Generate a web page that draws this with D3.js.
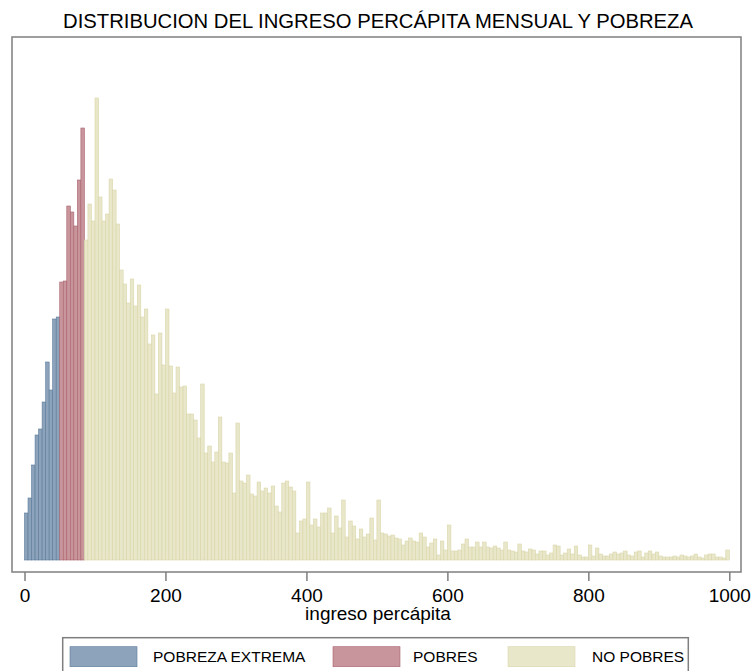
<!DOCTYPE html>
<html>
<head>
<meta charset="utf-8">
<script src="https://cdn.jsdelivr.net/npm/d3@7"></script>
<style>
    body { margin: 0; background: #ffffff; }
    svg { font-family: "Liberation Sans", Arial, sans-serif; }
</style>
</head>
<body>
<svg id="drawing_region"></svg>
<script>
// ancho de cada intervalo del histograma
const binWidth = 5;

// frecuencias por grupo (altura relativa de cada barra)
const extremaStart = 0;
const pobrezaExtrema = [47, 62, 95, 125, 131, 158, 198, 170, 241, 243];

const pobresStart = 50;
const pobres = [278, 279, 354, 348, 334, 380, 432];

const noPobresStart = 85;
const noPobres = [
    320, 356, 339, 462, 363, 339, 346, 381, 370, 336, 290, 276, 257,
    281, 254, 275, 243, 251, 216, 225, 166, 227, 195, 251, 194, 167, 193, 173, 174,
    146, 146, 140, 122, 176, 107, 114, 98, 108, 143, 98, 97, 107, 67, 137,
    79, 77, 85, 66, 64, 78, 69, 72, 67, 74, 54, 48, 77, 79, 73, 69, 27, 39, 41,
    78, 35, 41, 33, 47, 47, 52, 27, 44, 32, 60, 23, 39, 34, 21, 31, 23, 26,
    42, 20, 60, 27, 26, 24, 25, 22, 21, 15, 19, 22, 19, 18, 27, 23, 13, 17, 21,
    5, 19, 10, 35, 9, 9, 10, 16, 21, 13, 13, 18, 13, 18, 13,
    12, 14, 12, 10, 18, 10, 9, 8, 16, 9, 8, 11, 10, 6, 9, 9, 5, 7, 15, 14, 5,
    7, 11, 6, 14, 5, 3, 3, 15, 4, 12, 6, 4, 4, 6, 8, 6,
    7, 9, 5, 4, 8, 9, 3, 7, 9, 6, 8, 4, 3, 3, 3, 4, 3, 5, 4, 3, 4, 6, 3, 2,
    5, 6, 6, 3, 3, 2, 10
];

const xTicks = [0, 200, 400, 600, 800, 1000];
const groupNames = ["POBREZA EXTREMA", "POBRES", "NO POBRES"];

const config = {
    parent: '#drawing_region',
    width: 755,
    height: 671
};

class Histogram {

    constructor( config ) {
        this.config = config;
        this.groups = [
            { name: groupNames[0], start: extremaStart, values: pobrezaExtrema, fill: '#8ca3bb', stroke: '#5b7a99' },
            { name: groupNames[1], start: pobresStart, values: pobres, fill: '#c9959c', stroke: '#a9626c' },
            { name: groupNames[2], start: noPobresStart, values: noPobres, fill: '#e9e7ca', stroke: '#d9d6aa' }
        ];
        this.init();
    }

    init() {
        let self = this;

        self.svg = d3.select( self.config.parent )
            .attr('width', self.config.width)
            .attr('height', self.config.height);

        // titulo
        self.svg.append('text')
            .attr('x', 378)
            .attr('y', 28)
            .attr('text-anchor', 'middle')
            .attr('font-size', 20)
            .attr('textLength', 630)
            .attr('lengthAdjust', 'spacingAndGlyphs')
            .text('DISTRIBUCION DEL INGRESO PERCÁPITA MENSUAL Y POBREZA');

        // marco del grafico
        self.svg.append('rect')
            .attr('x', 12)
            .attr('y', 37)
            .attr('width', 729)
            .attr('height', 535)
            .attr('fill', 'none')
            .attr('stroke', '#7f7f7f')
            .attr('stroke-width', 1.5);

        self.xscale = d3.scaleLinear()
            .domain( [0, 1000] )
            .range( [24.5, 729.3] );

        self.yscale = d3.scaleLinear()
            .domain( [0, 500] )
            .range( [560, 60] );

        self.chart = self.svg.append('g');

        self.xaxis = d3.axisBottom( self.xscale )
            .tickValues( xTicks )
            .tickFormat( d3.format('d') )
            .tickSize(9)
            .tickPadding(8);

        self.xaxis_group = self.svg.append('g')
            .attr('transform', 'translate(0, 572)');

        self.svg.append('text')
            .attr('x', 378)
            .attr('y', 620)
            .attr('text-anchor', 'middle')
            .attr('font-size', 19)
            .text('ingreso percápita');

        self.legend = self.svg.append('g');
    }

    update() {
        let self = this;
        self.bars = [];
        self.groups.forEach( g => {
            g.values.forEach( (v, i) => {
                self.bars.push({ x0: g.start + i * binWidth, value: v, fill: g.fill, stroke: g.stroke });
            });
        });
        self.render();
    }

    render() {
        let self = this;

        self.chart.selectAll('rect')
            .data( self.bars )
            .join('rect')
            .attr('x', d => self.xscale( d.x0 ))
            .attr('y', d => self.yscale( d.value ))
            .attr('width', d => self.xscale( d.x0 + binWidth ) - self.xscale( d.x0 ))
            .attr('height', d => self.yscale(0) - self.yscale( d.value ))
            .attr('fill', d => d.fill)
            .attr('stroke', d => d.stroke)
            .attr('stroke-width', 0.6);

        self.xaxis_group.call( self.xaxis );
        self.xaxis_group.select('.domain').remove();
        self.xaxis_group.selectAll('line')
            .attr('stroke', '#7f7f7f')
            .attr('stroke-width', 1.5);
        self.xaxis_group.selectAll('text')
            .attr('fill', '#000')
            .attr('font-size', 19)
            .attr('font-family', '"Liberation Sans", Arial, sans-serif');

        // leyenda
        self.legend.append('rect')
            .attr('x', 62.7)
            .attr('y', 637.7)
            .attr('width', 625.6)
            .attr('height', 40)
            .attr('fill', 'none')
            .attr('stroke', '#7f7f7f')
            .attr('stroke-width', 1.5);

        const keyX = [70, 333, 508];
        const textX = [153, 413, 592];

        self.legend.selectAll('.key')
            .data( self.groups )
            .join('rect')
            .attr('class', 'key')
            .attr('x', (d, i) => keyX[i])
            .attr('y', 646.7)
            .attr('width', 67)
            .attr('height', 20)
            .attr('fill', d => d.fill)
            .attr('stroke', d => d.stroke)
            .attr('stroke-width', 0.6);

        self.legend.selectAll('.label')
            .data( self.groups )
            .join('text')
            .attr('class', 'label')
            .attr('x', (d, i) => textX[i])
            .attr('y', 662)
            .attr('font-size', 15.5)
            .text( d => d.name );
    }
}

const histogram = new Histogram( config );
histogram.update();
</script>
</body>
</html>
